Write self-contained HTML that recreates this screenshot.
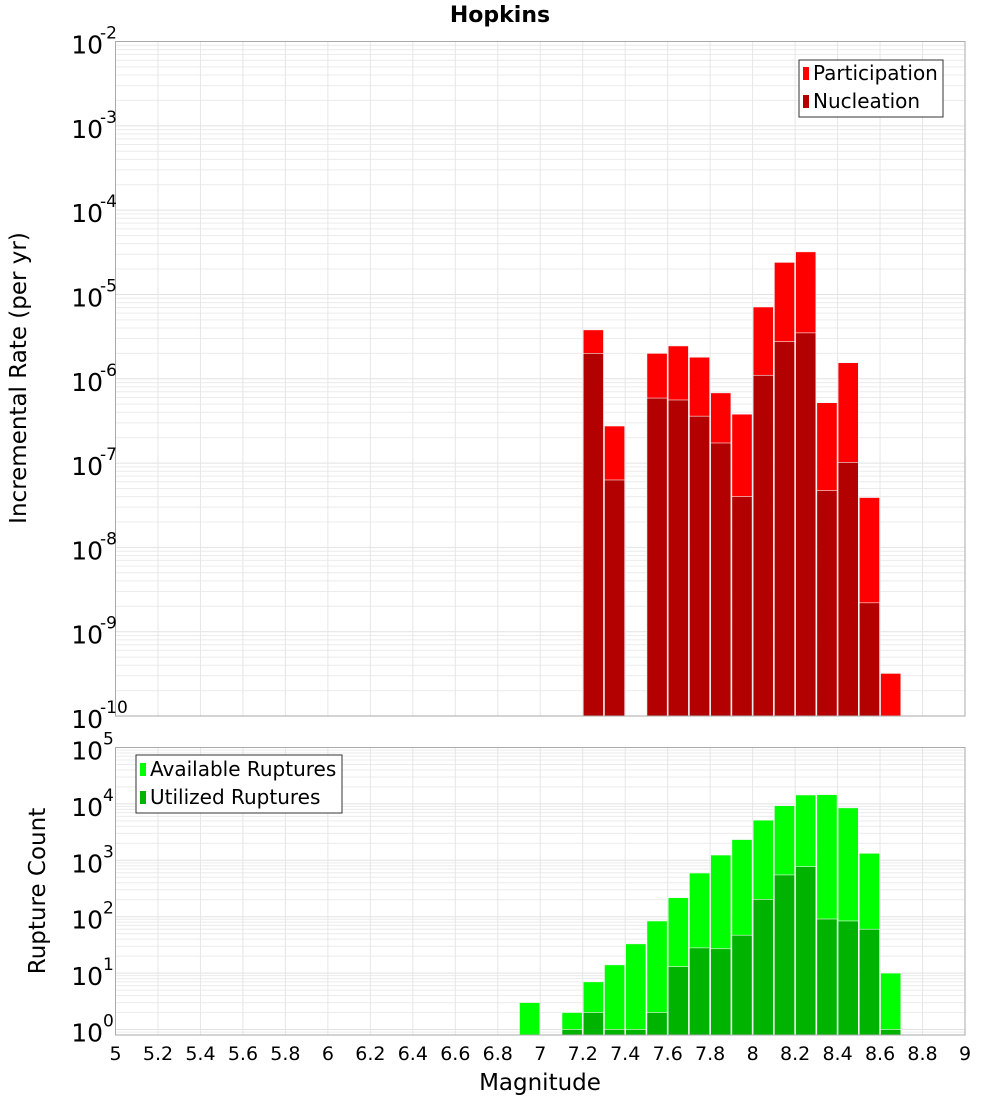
<!DOCTYPE html>
<html><head><meta charset="utf-8"><style>
body{margin:0;background:#fff;}
svg text{font-family:"DejaVu Sans","Liberation Sans",sans-serif;}
</style></head><body>
<svg id="c" width="1000" height="1100" xmlns="http://www.w3.org/2000/svg">
<text x="500" y="22" text-anchor="middle" font-size="22" font-weight="bold">Hopkins</text>
<g id="topPanel"></g>
<g id="botPanel"></g>
<text transform="translate(26,378) rotate(-90)" text-anchor="middle" font-size="23">Incremental Rate (per yr)</text>
<text transform="translate(45,891) rotate(-90)" text-anchor="middle" font-size="23">Rupture Count</text>
<text x="540" y="1090" text-anchor="middle" font-size="23">Magnitude</text>
<g id="legends">
<g>
<rect x="799" y="60" width="144" height="57" fill="#fff" stroke="#333" stroke-width="1"/>
<rect x="803" y="67" width="6" height="13" fill="#ff0000"/>
<text x="813" y="80" font-size="20">Participation</text>
<rect x="803" y="95" width="6" height="13" fill="#b30000"/>
<text x="813" y="108" font-size="20">Nucleation</text>
</g>
<g>
<rect x="136" y="755" width="206" height="58" fill="#fff" stroke="#333" stroke-width="1"/>
<rect x="140" y="763" width="6" height="13" fill="#00ff00"/>
<text x="150" y="776" font-size="20">Available Ruptures</text>
<rect x="140" y="791" width="6" height="13" fill="#00b300"/>
<text x="150" y="804" font-size="20">Utilized Ruptures</text>
</g>
</g>
</svg>
<script>
const rateMags = [7.2,7.3,7.5,7.6,7.7,7.8,7.9,8.0,8.1,8.2,8.3,8.4,8.5,8.6];
const participation = [3.8e-6,2.75e-7,2.0e-6,2.45e-6,1.8e-6,6.8e-7,3.8e-7,7.1e-6,2.4e-5,3.2e-5,5.2e-7,1.55e-6,3.9e-8,3.2e-10];
const nucleation = [2.0e-6,6.3e-8,5.9e-7,5.6e-7,3.6e-7,1.73e-7,4.0e-8,1.1e-6,2.75e-6,3.5e-6,4.7e-8,1.02e-7,2.2e-9,0];
const countMags = [6.9,7.1,7.2,7.3,7.4,7.5,7.6,7.7,7.8,7.9,8.0,8.1,8.2,8.3,8.4,8.5,8.6];
const available = [3,2,7,14,33,84,217,595,1240,2330,5150,9300,14400,14600,8500,1330,10];
const utilized = [0,1,2,1,1,2,13,28,27,47,203,550,770,91,84,60,1];
const xTicks = [5,5.2,5.4,5.6,5.8,6,6.2,6.4,6.6,6.8,7,7.2,7.4,7.6,7.8,8,8.2,8.4,8.6,8.8,9];
const topExps = [-2,-3,-4,-5,-6,-7,-8,-9,-10];
const botExps = [5,4,3,2,1,0];

const NS="http://www.w3.org/2000/svg";
const L=115.5,R=965;
function X(m){return L+(m-5)*(R-L)/4;}
const T1=41.5,B1=716;
function Y1(v){return T1+(-2-Math.log10(v))*(B1-T1)/8;}
const T2=747.5,B2=1035,D2=56.4;
function Y2(v){return 1029.5-Math.log10(v)*D2;}
function mk(tag,attrs,parent){const e=document.createElementNS(NS,tag);for(const k in attrs)e.setAttribute(k,attrs[k]);parent.appendChild(e);return e;}

function panel(g,T,B,minE,maxE,Yf){
  const grid=mk('g',{},g);
  
  
  for(let e=Math.floor(minE);e<maxE;e++){for(let k=1;k<10;k++){const v=k*Math.pow(10,e);const y=Yf(v);if(y<T||y>B)continue;
    mk('line',{x1:L,x2:R,y1:y,y2:y,stroke:k==1?'#e2e2e2':'#ececec','stroke-width':1},grid);}}
  xTicks.forEach(t=>{mk('line',{x1:X(t),x2:X(t),y1:T,y2:B,stroke:'#e6e6e6','stroke-width':1},grid);});
}
const topG=document.getElementById('topPanel'),botG=document.getElementById('botPanel');
panel(topG,T1,B1,-10,-2,Y1);
panel(botG,T2,B2,-1,5,Y2);
function bar(g,m,v,Yf,B,col,name){if(!(v>0))return;const y=Yf(v);const e=mk('rect',{x:X(m)+0.5,y:y,width:X(m+0.1)-X(m)-1,height:B-y,fill:col,stroke:'#f4f4f4','stroke-width':0.6},g);
  
  }
rateMags.forEach((m,i)=>{bar(topG,m,participation[i],Y1,B1,'#ff0000','bar-participation-'+m);bar(topG,m,nucleation[i],Y1,B1,'#b30000','bar-nucleation-'+m);});
countMags.forEach((m,i)=>{bar(botG,m,available[i],Y2,B2,'#00ff00','bar-available-'+m);bar(botG,m,utilized[i],Y2,B2,'#00b300','bar-utilized-'+m);});
mk('rect',{x:L,y:T1,width:R-L,height:B1-T1,fill:'none',stroke:'#aaa','stroke-width':1},topG);
mk('rect',{x:L,y:T2,width:R-L,height:B2-T2,fill:'none',stroke:'#aaa','stroke-width':1},botG);
function ylab(g,y,e){const t=mk('text',{x:103,y:y+12,'text-anchor':'end','font-size':25},g);t.textContent='10';
  
  
  const s=mk('text',{x:e<0?100:103,y:y-3,'font-size':17},g);s.textContent=String(e);
  
  }
topExps.forEach(e=>ylab(topG,Y1(Math.pow(10,e)),e));
botExps.forEach(e=>ylab(botG,Y2(Math.pow(10,e)),e));
xTicks.forEach(t=>{const e=mk('text',{x:X(t),y:1060,'text-anchor':'middle','font-size':19},botG);e.textContent=String(t);
  
  });
document.getElementById('c').appendChild(document.getElementById('legends'));
</script>
</body></html>
